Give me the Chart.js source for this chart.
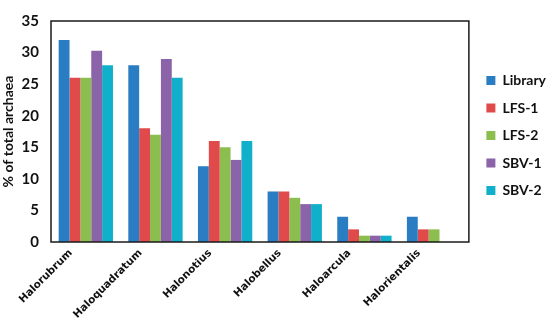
<!DOCTYPE html>
<html>
<head>
<meta charset="utf-8">
<script src="https://cdn.jsdelivr.net/npm/chart.js@4.4.0/dist/chart.umd.min.js"></script>
<style>
  html, body { margin: 0; padding: 0; background: #fff; }
  #wrap { width: 550px; height: 325px; }
</style>
</head>
<body>
<div id="wrap"><canvas id="myChart"></canvas></div>
<script>
const genera = ['Halorubrum', 'Haloquadratum', 'Halonotius', 'Halobellus', 'Haloarcula', 'Halorientalis'];

const library = [32, 28, 12, 8, 4, 4];
const lfs1 = [26, 18, 16, 8, 2, 2];
const lfs2 = [26, 17, 15, 7, 1, 2];
const sbv1 = [30.3, 29, 13, 6, 1, 0];
const sbv2 = [28, 26, 16, 6, 1, 0];

const yTicks = [0, 5, 10, 15, 20, 25, 30, 35];

const ctx = document.getElementById('myChart');

// frame round the plot area
const frame = {
  id: 'frame',
  afterDraw(chart) {
    const a = chart.chartArea;
    const c = chart.ctx;
    c.save();
    c.strokeStyle = '#1a1a1a';
    c.lineWidth = 1.5;
    c.strokeRect(a.left, a.top, a.right - a.left, a.bottom - a.top);
    c.restore();
  }
};

// legend sits a bit lower and further right than chart.js puts it
const legendShift = {
  id: 'legendShift',
  afterLayout(chart) {
    const lg = chart.legend;
    lg.top += 4;
    lg.bottom += 4;
    lg.left += 4;
    lg.right += 4;
  }
};

function bars(label, data, color) {
  return { label: label, data: data, backgroundColor: color, borderWidth: 0 };
}

new Chart(ctx, {
  type: 'bar',
  data: {
    labels: genera,
    datasets: [
      bars('Library', library, '#2a7dc2'),
      bars('LFS-1', lfs1, '#e04a4b'),
      bars('LFS-2', lfs2, '#8bbd4f'),
      bars('SBV-1', sbv1, '#8a63a8'),
      bars('SBV-2', sbv2, '#10b0cb')
    ]
  },
  options: {
    responsive: true,
    maintainAspectRatio: false,
    animation: false,
    layout: { padding: { top: 9, left: 0, right: -2, bottom: 0 } },
    datasets: { bar: { categoryPercentage: 0.78, barPercentage: 1 } },
    plugins: {
      tooltip: { enabled: false },
      legend: {
        position: 'right',
        fullSize: false,
        labels: {
          boxWidth: 9,
          boxHeight: 9,
          padding: 13.5,
          color: '#111',
          font: { family: 'Lato', size: 14, weight: 'bold' }
        }
      }
    },
    scales: {
      x: {
        grid: { display: false, drawTicks: false },
        border: { display: false },
        afterFit(axis) { axis.height = 83; },
        ticks: {
          maxRotation: 45,
          minRotation: 45,
          padding: 5,
          labelOffset: -15,
          color: '#111',
          font: { family: 'DejaVu Sans', size: 10.5, weight: 'bold' }
        }
      },
      y: {
        min: 0,
        max: 35,
        afterBuildTicks(axis) { axis.ticks = yTicks.map(v => ({ value: v })); },
        afterFit(axis) { axis.width = 51; },
        grid: { display: false, drawTicks: false },
        border: { display: false },
        ticks: {
          padding: 12,
          color: '#111',
          font: { family: 'Lato', size: 15, weight: 'bold' }
        },
        title: {
          display: true,
          text: '% of total archaea',
          color: '#111',
          padding: { top: 0, bottom: 2 },
          font: { family: 'Lato', size: 14, weight: 'bold' }
        }
      }
    }
  },
  plugins: [frame, legendShift]
});
</script>
</body>
</html>
